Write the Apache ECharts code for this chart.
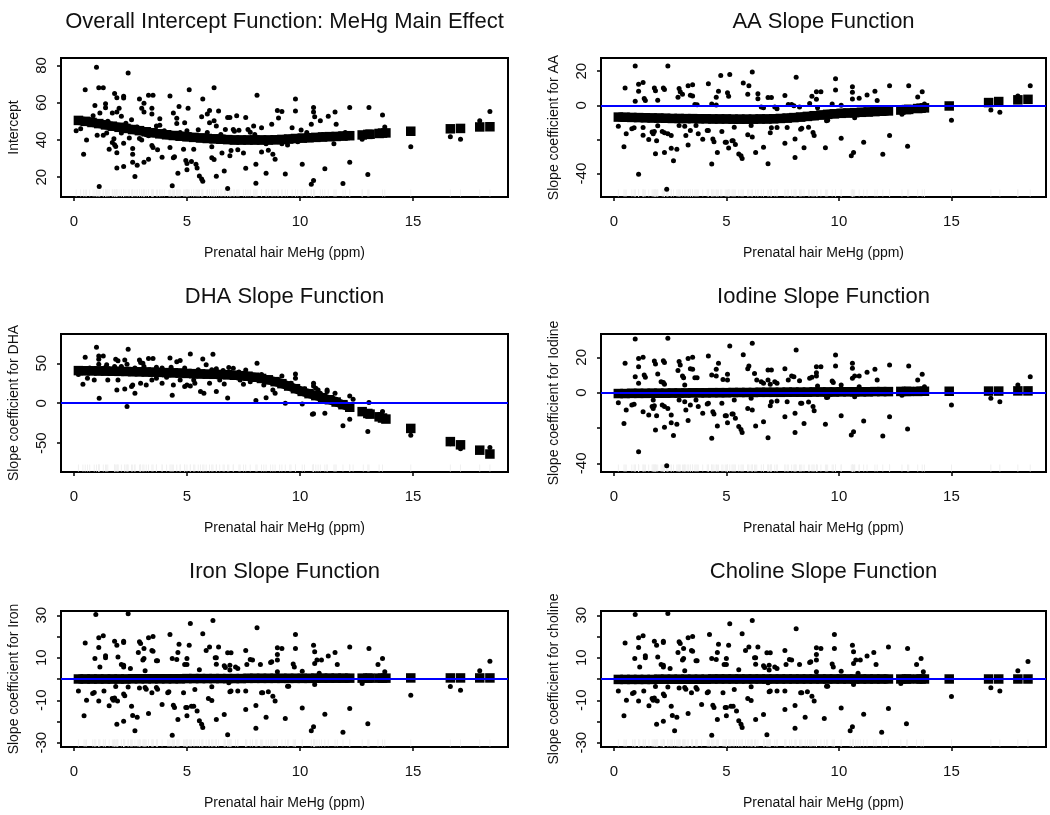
<!DOCTYPE html>
<html><head><meta charset="utf-8">
<script src="https://cdn.jsdelivr.net/npm/echarts@6/dist/echarts.min.js"></script>
<style>html,body{margin:0;padding:0;background:#fff}#c{width:1050px;height:815px}</style>
</head><body><div id="c"></div><script>
// ---------------- DATA ----------------
const titles = ['Overall Intercept Function: MeHg Main Effect','AA Slope Function','DHA Slope Function','Iodine Slope Function','Iron Slope Function','Choline Slope Function'];
const yNames = ['Intercept','Slope coefficient for AA','Slope coefficient for DHA','Slope coefficient for Iodine','Slope coefficient for Iron','Slope coefficient for choline'];
const xName = 'Prenatal hair MeHg (ppm)';
const xTicks = [0,5,10,15];
const yTicks1 = [20,40,60,80];
const yTicks2 = [-40,-20,0,20];  const yLabels2 = [-40,0,20];
const yTicks3 = [-50,0,50];
const yTicks4 = [-40,-20,0,20];  const yLabels4 = [-40,0,20];
const yTicks5 = [-30,-20,-10,0,10,20,30]; const yLabels5 = [-30,-10,10,30];

// fitted function x positions (square markers)
const fitX = [0.2,0.5,0.8,1.1,1.4,1.7,2.0,2.3,2.6,2.9,3.2,3.5,3.8,4.1,4.4,4.7,5.0,5.3,5.6,5.9,6.2,6.5,6.8,7.1,7.4,7.7,8.0,8.3,8.6,8.9,9.2,9.5,9.8,10.1,10.4,10.7,11.0,11.3,11.6,11.9,12.2,12.75,13.0,13.1,13.5,13.65,13.8,14.9,16.65,17.1,17.95,18.4];
const interceptFit = [50.5,50.0,49.4,48.8,48.1,47.4,46.8,46.2,45.6,45.0,44.4,43.9,43.3,42.8,42.4,42.0,41.7,41.4,41.1,40.8,40.6,40.4,40.2,40.0,40.0,40.0,40.0,40.0,40.0,40.1,40.3,40.5,40.8,41.0,41.2,41.4,41.6,41.8,41.9,42.1,42.3,42.7,43.0,43.1,43.5,43.7,43.8,44.7,46.0,46.2,47.0,47.1];
const aaFit = [-6.9,-7.0,-7.1,-7.2,-7.3,-7.4,-7.5,-7.6,-7.7,-7.7,-7.8,-7.8,-7.9,-7.9,-8.0,-8.0,-8.0,-8.1,-8.1,-8.1,-8.1,-8.0,-8.0,-7.9,-7.7,-7.5,-7.2,-6.9,-6.5,-6.1,-5.7,-5.3,-5.0,-4.7,-4.5,-4.3,-4.1,-3.9,-3.7,-3.5,-3.3,-2.8,-2.5,-2.4,-1.9,-1.7,-1.5,-0.4,1.6,2.2,3.2,3.5];
const dhaFit = [40.8,40.6,40.5,40.4,40.2,40.0,39.9,39.7,39.5,39.3,39.1,38.9,38.6,38.3,38.0,37.7,37.3,37.0,36.7,36.4,36.2,36.0,35.6,35.0,34.5,33.8,32.5,31.0,29.3,27.0,24.5,21.5,18.2,14.8,12.0,9.5,7.0,4.4,1.5,-1.8,-5.0,-10.5,-12.8,-13.6,-17.0,-18.5,-19.8,-31.5,-48.0,-52.0,-58.7,-63.5];
const iodineFit = [-0.5,-0.5,-0.4,-0.4,-0.4,-0.3,-0.3,-0.3,-0.2,-0.2,-0.2,-0.1,-0.1,-0.1,0,0,0,0.1,0.1,0.1,0.1,0.2,0.2,0.2,0.2,0.3,0.3,0.3,0.3,0.4,0.4,0.4,0.4,0.5,0.5,0.5,0.5,0.5,0.6,0.6,0.6,0.7,0.7,0.7,0.7,0.8,0.8,0.8,0.9,0.9,1.0,1.0];
const ironFit = [0,0,0,0,0,0,0,0,0.1,0.1,0.1,0.1,0.1,0.1,0.1,0.1,0.2,0.2,0.2,0.2,0.2,0.2,0.2,0.2,0.2,0.3,0.3,0.3,0.3,0.3,0.3,0.3,0.3,0.3,0.3,0.4,0.4,0.4,0.4,0.4,0.4,0.4,0.4,0.4,0.4,0.4,0.4,0.5,0.5,0.5,0.5,0.5];
const cholineFit = [-0.2,-0.2,-0.2,-0.2,-0.2,-0.2,-0.1,-0.1,-0.1,-0.1,-0.1,-0.1,-0.1,-0.1,0,0,0,0,0,0,0,0,0,0,0,0,0,0,0,0,0,0,0,0,0,0,0,0,0,0,0,0,0,0,0,0,0,0,0,0,0,0];

// individual points [MeHg, value]
const interceptPts = [[1.0,79],[2.4,76],[0.5,67],[1.1,68],[1.3,68],[5.1,67],[6.2,68],[1.8,65],[1.9,62.7],[2.2,63.5],[2.2,62.5],[2.9,62],[3.1,59.7],[3.3,64],[3.5,64],[4.25,63.6],[5.7,62],[9.8,62],[8.1,64],[0.93,58.5],[1.4,59.4],[1.4,57.3],[1.15,54.5],[1.9,55],[2.0,57],[2.1,52.7],[3.0,57],[3.1,55],[3.45,57],[3.45,54],[4.65,58],[4.4,54.5],[4.55,51.7],[5.05,57],[6.0,55.8],[5.9,54],[6.4,55.5],[9.0,55.8],[9.2,55.3],[9.8,55.5],[10.6,57.5],[10.6,55],[12.2,57.5],[13.05,57.5],[13.65,53.4],[11.55,55],[11.25,52.7],[18.4,55.3],[0.1,45],[0.43,32.4],[0.56,40],[1.03,42.5],[1.12,15],[1.3,42.5],[1.56,35],[1.7,38.6],[1.77,40.6],[1.8,37.5],[1.85,36.5],[1.9,33.2],[1.9,25],[2.2,38.2],[2.2,25.8],[2.45,41],[2.6,35.4],[2.6,32.3],[2.6,28],[2.7,20.4],[2.8,26.5],[2.9,40.8],[3.0,40],[3.1,28],[3.3,29.7],[3.45,37],[3.5,36],[3.7,34.7],[3.9,30.8],[4.25,36],[4.35,15.5],[4.4,30.4],[4.45,31],[4.6,22.2],[4.85,35],[4.95,29],[5.0,27.4],[5.0,24],[5.2,28.4],[5.3,35],[5.4,27],[5.45,25],[5.55,20.7],[5.65,19],[5.7,17.8],[6.1,36.4],[6.3,20.5],[6.1,30.4],[6.2,29.5],[6.55,33],[6.65,23.4],[6.8,14],[6.9,31.5],[6.95,34.3],[7.25,34.8],[7.6,24.8],[7.5,33],[8.05,16.8],[8.05,27],[8.3,33.5],[8.5,22.2],[8.6,34.5],[8.8,32.3],[8.9,29.7],[9.35,21.8],[9.45,37.3],[10.1,27],[10.5,16.3],[10.6,18.3],[11.1,24.6],[11.9,16.6],[12.2,28],[13.0,21.5],[12.75,40.4],[14.9,36.4],[16.65,41.7],[17.1,40.4],[17.95,50.3],[0.85,53],[1.7,54.5],[1.45,43.8],[2.1,43.8],[2.55,50.8],[3.2,42.8],[3.3,42.3],[3.5,42.8],[3.65,47.5],[3.8,51.4],[3.8,47.9],[4.2,42.8],[4.55,48.8],[4.9,49.3],[5.0,44.9],[5.3,41.9],[5.65,52.5],[6.0,49.3],[6.2,50.3],[6.3,47.5],[6.7,45.6],[6.8,52.1],[6.9,52.1],[7.05,45.6],[7.1,44.7],[7.2,53],[7.3,45.2],[7.6,52.1],[7.7,45.6],[7.8,44.1],[7.95,47.5],[8.3,46.6],[8.75,48.4],[9.05,51.8],[9.65,46.6],[10.05,45.3],[10.5,48.4],[10.65,52.5],[10.9,50.3],[11.6,48.4],[12.75,42],[13.75,47],[0.3,46],[0.7,51],[1.5,50],[2.3,49],[2.8,47],[3.1,44],[4.0,45],[4.7,44],[5.5,45.5],[5.9,44],[6.5,43],[8.0,43],[8.5,38],[9.2,38],[9.9,39],[10.3,44],[11.0,43],[11.5,38],[12.0,44]];

const aaPts = [[0.95,23],[2.4,23],[0.5,10.2],[1.1,12.4],[1.3,13.4],[0.95,2.4],[1.1,8.3],[1.35,4],[1.4,2.8],[1.8,10.2],[1.85,8.5],[2.2,10.2],[2.25,9.3],[1.95,3],[2.9,9.8],[2.95,7.9],[3.3,11.4],[3.5,12],[2.85,4.7],[3.4,5.9],[3.5,5.5],[3.05,6.5],[4.2,12.6],[4.75,17.5],[5.15,18],[4.65,8.3],[4.55,4.7],[5.05,7.3],[5.1,5.3],[5.75,13],[6.15,19.5],[5.95,6.5],[6.0,11.4],[6.4,6.7],[6.4,3.9],[6.85,4.5],[7.0,4.5],[7.6,5.7],[8.1,16.5],[8.7,1],[8.8,5.3],[9.0,7.9],[9.85,15.6],[9.85,9],[9.7,0.8],[10.6,10.8],[10.6,7.7],[10.6,3.7],[10.9,4.1],[11.25,6.1],[11.6,8.3],[11.7,2.8],[12.25,11.4],[13.1,11.4],[13.5,4.9],[13.7,7.9],[18.5,11.4],[17.95,5.5],[17.95,3],[15.0,-8.7],[16.75,-2.8],[17.15,-4.1],[3.6,0.5],[3.7,0.3],[4.35,0.8],[4.55,0.2],[6.55,-1],[6.65,-1.5],[7.15,-1],[7.25,-2],[7.75,0.5],[7.9,0.5],[8.0,-0.3],[8.25,-1],[9.0,3.5],[9.05,-1.5],[9.2,8],[10.1,0],[13.8,0.8],[0.2,-12.2],[0.45,-24.2],[0.55,-16.7],[0.8,-13.8],[0.9,-13.2],[1.1,-40.4],[1.3,-17.5],[1.3,-13],[1.55,-20.1],[1.7,-15.7],[1.75,-16.7],[1.8,-15.4],[1.85,-28.3],[1.9,-20.7],[1.95,-12],[2.15,-15.4],[2.25,-16.1],[2.25,-27.6],[2.35,-49.2],[2.4,-16.7],[2.55,-17.7],[2.55,-25.2],[2.65,-32.5],[2.8,-25.8],[2.9,-11.8],[3.15,-12.2],[3.2,-17.7],[3.3,-23.2],[3.4,-14.8],[3.65,-11.8],[3.75,-16.7],[3.95,-19.9],[4.15,-14.8],[4.2,-14.8],[4.35,-34.4],[4.4,-19.7],[4.45,-21.3],[4.6,-27.6],[4.8,-15.4],[4.95,-21.7],[5.0,-21.7],[5.1,-25],[5.25,-20.7],[5.3,-20.7],[5.4,-23],[5.35,-12.8],[5.55,-28.5],[5.65,-29.5],[5.7,-31.1],[5.95,-17.3],[6.15,-18.5],[6.1,-11.8],[6.3,-27.6],[6.65,-24.6],[6.85,-34.3],[6.95,-16.1],[7.0,-13.2],[7.25,-13],[7.6,-22.2],[7.7,-13],[8.05,-30.5],[8.05,-19.7],[8.3,-14],[8.35,-13.4],[8.45,-24.8],[8.65,-12.8],[8.85,-15.9],[8.9,-17.7],[9.4,-24.8],[9.45,-9],[9.5,-8.7],[10.1,-19.3],[10.55,-29.5],[10.65,-27.6],[10.7,-7.3],[11.1,-21.7],[11.95,-28.7],[12.25,-17.7],[12.8,-5.3],[13.05,-24],[13.8,-0.4]];

const dhaPts = [[1.0,70],[2.4,67.5],[0.5,57.5],[1.1,55],[1.1,59],[1.3,59],[1.1,48.8],[1.85,55],[1.95,53],[2.25,54],[2.35,48.8],[1.8,45.8],[1.8,42.5],[1.45,48],[2.9,54],[2.95,50.8],[3.05,50],[3.3,56],[3.5,56],[3.65,45],[4.25,56.7],[4.55,52],[4.7,53.3],[5.15,61.7],[5.7,55.4],[6.15,61.3],[5.85,48],[6.3,43],[6.85,44.6],[7.05,43.8],[8.1,50],[7.6,41.7],[9.2,34.2],[9.8,36.7],[9.8,31.3],[10.6,25],[10.6,21.7],[10.8,16.7],[11.2,14.6],[11.55,12.5],[11.6,5],[12.2,9.2],[13.05,0.8],[13.65,-10.4],[18.4,-55.4],[17.95,-57],[17.1,-57],[16.65,-50.8],[14.9,-40],[11.9,-28.3],[12.2,-20],[13.0,-35.4],[11.1,-12.5],[10.55,-13.8],[10.6,-13.3],[10.1,-0.8],[9.35,0],[2.35,-4.2],[1.12,6.2],[2.7,12.5],[4.35,10],[6.8,6.7],[8.05,3.3],[8.5,7],[8.9,12.5],[5.6,14.6],[5.75,12.5],[6.3,14.6],[0.4,23.8],[0.6,31.3],[1.9,16.7],[2.25,17.9],[2.55,20.8],[2.6,22.9],[2.95,25],[3.2,22.9],[3.9,25],[4.4,22.9],[4.9,20.8],[5.0,22.9],[5.15,21.7],[5.35,25],[6.0,25],[6.65,24.2],[7.35,29.2],[7.8,27],[8.4,22.9],[8.8,16.7],[9.55,22.9],[7.05,33.3],[0.9,29.2],[1.5,29.2],[1.95,29.2],[3.45,29.2],[3.65,31.3],[4.1,32.5],[4.7,29.2],[5.3,29.2],[6.45,29.2],[7.5,23.8],[12.35,5],[11.2,16.7],[10.9,12.5],[10.7,18.8],[0.2,36],[0.7,44],[1.4,45],[2.1,46],[2.7,44],[3.1,46],[3.9,44],[4.3,45],[4.9,44],[5.5,42],[6.1,42],[6.6,41],[7.3,39],[8.3,36],[8.7,31],[9.1,28],[9.6,25],[10.2,18],[11.5,6],[12.8,-8],[13.5,-14]];

const iodinePts = [[0.95,30.4],[2.4,30.8],[0.5,16.6],[1.1,19.4],[1.3,20],[1.1,14.7],[0.95,9],[1.35,10],[1.4,8.7],[1.1,5.3],[1.8,17.9],[1.85,16.2],[1.95,10.6],[2.2,18.1],[2.25,17],[2.1,6.2],[2.2,5.8],[2.25,4.7],[2.9,17.7],[2.95,15.7],[2.85,12.5],[3.05,9.4],[3.1,8.5],[3.3,19.4],[3.5,20],[3.4,13.6],[3.5,13.2],[3.6,8.5],[3.7,8.5],[3.15,4.3],[4.2,20.8],[4.35,10],[4.55,9.4],[4.55,13.2],[4.65,16.6],[4.85,7.5],[5.05,7.2],[5.05,10.4],[5.15,26.4],[5.75,21.5],[6.15,27.9],[5.95,13.6],[6.0,15.1],[6.25,10.9],[6.35,7.2],[6.55,6.2],[6.65,5.3],[6.85,12.8],[7.0,12.8],[6.85,7.2],[6.95,4.7],[7.15,6.2],[7.25,5.3],[7.6,13.6],[7.75,7.2],[7.9,9.4],[8.0,9],[8.1,24.2],[8.25,6.8],[8.7,8.1],[8.8,8.7],[9.0,14.7],[9.0,11.3],[9.0,9.4],[9.2,14.7],[9.05,3.8],[9.7,6.6],[9.75,5.7],[9.85,21.3],[9.85,15.1],[10.1,4.3],[10.6,16.6],[10.6,13.8],[10.6,8.1],[10.7,9.4],[10.9,9.4],[11.25,11.5],[11.6,13.2],[11.7,7.2],[10.9,3.4],[12.25,15.7],[13.1,15.1],[13.5,7.2],[13.7,10.4],[13.8,3.4],[18.5,9],[17.95,4.3],[0.2,-5.7],[0.45,-17.4],[0.55,-9.8],[0.8,-7],[0.9,-6.6],[1.1,-33.4],[1.3,-10.8],[1.55,-12.6],[1.7,-7.9],[1.75,-8.9],[1.8,-7.4],[1.75,-4.2],[1.85,-21.1],[1.9,-13],[2.15,-7],[2.25,-7.9],[2.25,-19.6],[2.35,-41.3],[2.4,-8.9],[2.55,-12.6],[2.55,-17],[2.65,-24.2],[2.8,-17.9],[2.9,-4.2],[3.15,-5.1],[3.2,-9.8],[3.3,-15.8],[3.4,-7],[3.65,-4.2],[3.75,-7.9],[3.95,-11.7],[4.15,-6.4],[4.2,-6],[4.35,-25.8],[4.4,-10.8],[4.45,-12.1],[4.6,-18.9],[4.8,-6],[4.95,-13],[5.0,-13],[5.05,-17],[5.25,-12.1],[5.3,-12.1],[5.4,-14.5],[5.35,-4.2],[5.55,-19.2],[5.65,-20.8],[5.7,-22.6],[5.95,-8.9],[6.15,-9.8],[6.1,-3.2],[6.3,-18.9],[6.65,-16.4],[6.85,-25.5],[6.95,-7.4],[7.0,-5.1],[7.25,-4.7],[7.6,-13.6],[7.7,-5.1],[8.05,-22.6],[8.05,-11.7],[8.3,-6],[8.35,-6],[8.45,-17.4],[8.65,-5.3],[8.85,-7.9],[8.9,-10.2],[9.4,-17.9],[9.45,-2.8],[9.5,-2.6],[10.1,-13],[10.55,-24],[10.65,-22.1],[10.7,-2.3],[11.1,-16],[11.95,-24.5],[12.25,-13.6],[12.8,-1.5],[13.05,-20.6],[15.0,-7],[16.75,-3.2],[17.15,-5.1]];

const ironPts = [[0.97,30.4],[2.4,30.7],[5.15,26.1],[6.15,27.5],[8.1,24.1],[0.5,17],[1.1,19.4],[1.3,20.3],[1.1,14.8],[0.93,9.7],[1.4,10.9],[1.4,10],[1.15,5.7],[1.8,17.8],[1.9,15.9],[2.2,17.8],[2.2,17.2],[1.95,10.4],[2.1,6.8],[2.2,6.5],[2.2,5.7],[2.5,5],[2.9,17.5],[2.95,16.7],[3.1,14.4],[2.85,12.5],[3.05,8.9],[3.1,9.7],[3.3,19.4],[3.5,20],[3.45,13.4],[3.5,13.1],[3.65,8.6],[3.7,8.6],[3.15,3.9],[4.25,21],[4.35,9.7],[4.55,9.2],[4.6,12.5],[4.65,16.4],[4.9,6.8],[5.0,6.8],[5.0,9.7],[5.1,15.9],[5.7,21.3],[5.55,4.3],[5.85,13.4],[6.0,15.1],[6.4,15.1],[6.25,10],[6.3,10],[6.3,7],[6.65,6.2],[6.7,5.4],[6.8,12.3],[6.95,12.3],[6.9,6.5],[6.9,4.2],[7.15,5.7],[7.25,5],[7.6,13.4],[7.65,6.8],[7.8,9.2],[7.9,8.9],[8.25,6.8],[8.7,7.8],[8.75,8.1],[9.0,14.7],[9.0,11.5],[9.0,8.9],[9.2,14.4],[9.0,3.4],[9.7,7.1],[9.75,5.7],[9.8,21],[9.8,14.4],[10.1,3.7],[10.6,15.9],[10.65,12.8],[10.65,7.3],[10.75,8.9],[10.95,8.9],[11.25,10.8],[11.55,12.5],[11.65,6.8],[10.85,2.7],[12.2,15.1],[13.05,14.4],[13.45,6.8],[13.65,9.7],[13.75,3.4],[18.4,8.4],[17.95,3.9],[0.2,-5.6],[0.45,-17.3],[0.56,-10],[0.83,-6.8],[0.9,-6.4],[1.1,-10.4],[1.33,-5.6],[1.56,-12.6],[1.7,-9.2],[1.75,-10],[1.8,-8.9],[1.9,-21.3],[1.93,-10.4],[1.85,-3.5],[2.2,-7.1],[2.25,-7.9],[2.2,-19.9],[2.4,-3.8],[2.55,-12.8],[2.6,-17.2],[2.7,-24.4],[2.8,-18],[2.9,-4.2],[3.15,-4],[3.2,-4.8],[3.3,-16.2],[3.45,-6.5],[3.65,-4],[3.7,-4.8],[3.9,-12],[4.15,-6.5],[4.2,-6],[4.35,-26.5],[4.4,-12.3],[4.45,-13.4],[4.6,-19.1],[4.85,-6.5],[4.95,-13.4],[5.0,-13.4],[5.0,-17.3],[5.2,-12.8],[5.3,-12.8],[5.45,-15],[5.35,-4.9],[5.55,-19.7],[5.65,-21.3],[5.7,-22.8],[5.95,-9.2],[6.1,-10.1],[6.1,-3.7],[6.3,-19.1],[6.65,-16.7],[6.8,-26.2],[6.9,-6],[6.95,-5.7],[6.85,-1.8],[7.25,-5.6],[7.6,-14.4],[7.6,-5.6],[8.05,-23.2],[8.05,-12.5],[8.3,-6.5],[8.35,-6.5],[8.5,-18],[8.6,-6],[8.8,-8.1],[8.9,-10.4],[9.35,-18.6],[9.45,-3.4],[9.5,-3.4],[10.1,-13.6],[10.5,-24.4],[10.6,-22.5],[10.65,-2.6],[11.1,-16.6],[11.9,-25],[12.2,-13.9],[12.75,-2.1],[13.0,-21.1],[14.9,-7.7],[16.65,-3.5],[17.1,-5.3]];

const cholinePts = [[0.95,30.4],[2.4,30.8],[5.15,26],[6.15,27.5],[8.1,23.6],[0.5,16.9],[1.1,19.4],[1.3,20.3],[1.1,14.8],[0.93,9.7],[1.4,10.9],[1.4,10],[1.15,5.7],[1.8,17.8],[1.9,15.9],[2.2,17.8],[2.2,17.2],[1.95,10.4],[2.1,6.8],[2.2,6.5],[2.2,5.7],[2.5,5],[2.9,17.5],[2.95,16.7],[3.1,14.4],[2.85,12.5],[3.05,8.9],[3.1,9.7],[3.3,19.4],[3.5,20],[3.45,13.4],[3.5,13.1],[3.65,8.6],[3.7,8.6],[3.15,3.9],[4.25,21],[4.35,9.7],[4.55,9.2],[4.6,12.5],[4.65,16.4],[4.9,6.8],[5.0,6.8],[5.0,9.7],[5.1,15.9],[5.7,21.3],[5.55,4.3],[5.85,13.4],[6.0,15.1],[6.4,15.1],[6.25,10],[6.3,10],[6.3,7],[6.65,6.2],[6.7,5.4],[6.8,12.3],[6.95,12.3],[6.9,6.5],[6.9,4.2],[7.15,5.7],[7.25,5],[7.6,13.4],[7.65,6.8],[7.8,9.2],[7.9,8.9],[8.25,6.8],[8.7,7.8],[8.75,8.1],[9.0,14.7],[9.0,11.5],[9.0,8.9],[9.2,14.4],[9.0,3.4],[9.7,7.1],[9.75,5.7],[9.8,21],[9.8,14.4],[10.1,3.7],[10.6,15.9],[10.65,12.8],[10.65,7.3],[10.75,8.9],[10.95,8.9],[11.25,10.8],[11.55,12.5],[11.65,6.8],[10.85,2.7],[12.2,15.1],[13.05,14.4],[13.45,6.8],[13.65,9.7],[13.75,3.4],[18.4,8.2],[17.95,3.9],[0.2,-5.6],[0.45,-17.3],[0.56,-10],[0.83,-6.8],[0.9,-6.4],[1.1,-10.4],[1.33,-5.6],[1.56,-12.6],[1.7,-9.2],[1.75,-10],[1.8,-8.9],[1.9,-21.3],[1.93,-10.4],[1.85,-3.5],[2.2,-7.1],[2.25,-7.9],[2.2,-19.9],[2.4,-3.8],[2.55,-12.8],[2.6,-17.2],[2.7,-24.4],[2.8,-18],[2.9,-4.2],[3.15,-4],[3.2,-4.8],[3.3,-16.2],[3.45,-6.5],[3.65,-4],[3.7,-4.8],[3.9,-12],[4.15,-6.5],[4.2,-6],[4.35,-26.5],[4.4,-12.3],[4.45,-13.4],[4.6,-19.1],[4.85,-6.5],[4.95,-13.4],[5.0,-13.4],[5.0,-17.3],[5.2,-12.8],[5.3,-12.8],[5.45,-15],[5.35,-4.9],[5.55,-19.7],[5.65,-21.3],[5.7,-22.8],[5.95,-9.2],[6.1,-10.1],[6.1,-3.7],[6.3,-19.1],[6.65,-16.7],[6.8,-26.2],[6.9,-6],[6.95,-5.7],[6.85,-1.8],[7.25,-5.6],[7.6,-14.4],[7.6,-5.6],[8.05,-23.2],[8.05,-12.5],[8.3,-6.5],[8.35,-6.5],[8.5,-18],[8.6,-6],[8.8,-8.1],[8.9,-10.4],[9.35,-18.6],[9.45,-3.4],[9.5,-3.4],[10.1,-13.6],[10.5,-24.4],[10.6,-22.5],[10.65,-2.6],[11.1,-16.6],[11.9,-25],[12.2,-13.9],[12.75,-2.1],[13.0,-21.1],[15.0,-8.2],[16.75,-4.1],[17.15,-5.6]];

// ---------------- LAYOUT ----------------
const FONT = 'Liberation Sans, Arial, Helvetica, sans-serif';
const grids = [
  {left:61, top:58, width:447, height:139},
  {left:601, top:58, width:445, height:139},
  {left:61, top:334, width:447, height:138},
  {left:601, top:334, width:445, height:138},
  {left:61, top:611, width:447, height:136},
  {left:601, top:611, width:445, height:136}
];
const titleY = [11, 11, 286, 286, 561, 561];
const DENSE = 41; // number of fit points drawn as a continuous band
const panels = [
  {pts:interceptPts, fit:interceptFit, min:9.4, max:84, ticks:yTicks1, labels:yTicks1, zero:false},
  {pts:aaPts, fit:aaFit, min:-53.7, max:27.7, ticks:yTicks2, labels:yLabels2, zero:true},
  {pts:dhaPts, fit:dhaFit, min:-86, max:86.6, ticks:yTicks3, labels:yTicks3, zero:true},
  {pts:iodinePts, fit:iodineFit, min:-44.9, max:33.2, ticks:yTicks4, labels:yLabels4, zero:true},
  {pts:ironPts, fit:ironFit, min:-32, max:32, ticks:yTicks5, labels:yLabels5, zero:true},
  {pts:cholinePts, fit:cholineFit, min:-32, max:32, ticks:yTicks5, labels:yLabels5, zero:true}
];

const option = {
  backgroundColor:'#fff',
  animation:false,
  textStyle:{fontFamily:FONT},
  title: titles.map((t,i)=>({text:t, left:grids[i].left + grids[i].width/2, top:titleY[i], textAlign:'center', padding:0,
    textStyle:{fontSize:22, fontWeight:'normal', color:'#111', fontFamily:FONT}})),
  grid: grids.map(g=>Object.assign({show:true, borderColor:'#000', borderWidth:2, backgroundColor:'transparent', containLabel:false}, g)),
  xAxis: panels.map((p,i)=>({gridIndex:i, type:'value', min:-0.57, max:19.2,
    axisLine:{show:false, onZero:false}, splitLine:{show:false},
    axisTick:{show:true, length:4, inside:false, customValues:xTicks, lineStyle:{color:'#000', width:1.5}},
    axisLabel:{customValues:xTicks, fontSize:15, color:'#111', margin:17, fontFamily:FONT},
    name:xName, nameLocation:'middle', nameGap:49, nameTextStyle:{fontSize:14, color:'#111', fontFamily:FONT}})),
  yAxis: panels.map((p,i)=>({gridIndex:i, type:'value', min:p.min, max:p.max,
    axisLine:{show:false, onZero:false}, splitLine:{show:false},
    axisTick:{show:true, length:4, inside:false, customValues:p.ticks, lineStyle:{color:'#000', width:1.5}},
    axisLabel:{customValues:p.labels, rotate:90, fontSize:15, color:'#111', margin:12, fontFamily:FONT},
    name:yNames[i], nameLocation:'middle', nameGap:40, nameTextStyle:{fontSize:14, color:'#111', fontFamily:FONT}})),
  series: []
};
panels.forEach((p,i)=>{
  const fitData = fitX.map((x,k)=>[x, p.fit[k]]);
  option.series.push({type:'scatter', xAxisIndex:i, yAxisIndex:i, data:p.pts.map(d=>[d[0], p.min]),
    symbol:'rect', symbolSize:[1,7], symbolOffset:[0,-4], itemStyle:{color:'#f0f0f0', opacity:1}, silent:true, z:1});
  option.series.push({type:'scatter', xAxisIndex:i, yAxisIndex:i, data:p.pts, symbol:'circle', symbolSize:5,
    itemStyle:{color:'#000', opacity:1}, silent:true, z:2});
  option.series.push({type:'line', xAxisIndex:i, yAxisIndex:i, data:fitData.slice(0, DENSE), symbol:'none',
    lineStyle:{color:'#000', width:9, cap:'butt', join:'miter'}, silent:true, z:3});
  option.series.push({type:'scatter', xAxisIndex:i, yAxisIndex:i, data:fitData, symbol:'rect', symbolSize:9.5,
    itemStyle:{color:'#000', opacity:1}, silent:true, z:3});
  if (p.zero) option.series.push({type:'scatter', xAxisIndex:i, yAxisIndex:i, data:[], z:5,
    markLine:{silent:true, symbol:'none', label:{show:false}, lineStyle:{color:'#0000ff', width:2, type:'solid'}, data:[{yAxis:0}]}});
});
const chart = echarts.init(document.getElementById('c'), null, {renderer:'canvas'});
chart.setOption(option);
</script></body></html>
